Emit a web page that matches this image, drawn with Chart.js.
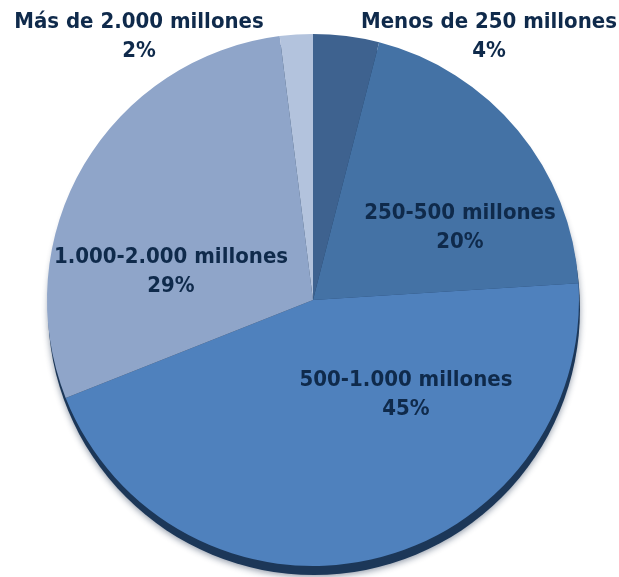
<!DOCTYPE html>
<html>
<head>
<meta charset="utf-8">
<script src="https://cdn.jsdelivr.net/npm/chart.js@4"></script>
<style>
	html, body { margin: 0; padding: 0; background: #ffffff; }
	#wrap { width: 619px; height: 577px; position: relative; }
</style>
</head>
<body>
<div id="wrap"><canvas id="pieChart"></canvas></div>
<script>
const categories = ['Menos de 250 millones', '250-500 millones', '500-1.000 millones', '1.000-2.000 millones', 'Más de 2.000 millones'];
const shares = [4, 20, 45, 29, 2];
const shareLabels = ['4%', '20%', '45%', '29%', '2%'];

const sliceColors = ['#3e628f', '#4472a5', '#4f81bd', '#8fa5c9', '#b3c3dd'];
const TEXT_COLOR = '#0f2a4b';
const LABEL_FONT = "bold 22px 'DejaVu Sans Condensed', 'DejaVu Sans', sans-serif";

// label centres, relative to the pie centre
const labelOffsets = [
	{ dx: 176, dy: -278 },
	{ dx: 147, dy: -87 },
	{ dx: 93, dy: 80 },
	{ dx: -142, dy: -43 },
	{ dx: -174, dy: -278 },
];

const shadowPlugin = {
	id: 'pieShadow',
	beforeDatasetsDraw(chart) {
		const arc = chart.getDatasetMeta(0).data[0];
		if (!arc) return;
		const { x, y, outerRadius } = arc.getProps(['x', 'y', 'outerRadius'], true);
		const ctx = chart.ctx;
		ctx.save();
		ctx.shadowColor = 'rgba(20, 40, 70, 0.45)';
		ctx.shadowBlur = 6;
		ctx.shadowOffsetY = 2;
		ctx.fillStyle = '#1c3758';
		ctx.beginPath();
		ctx.arc(x + 1, y + 9, outerRadius, 0, Math.PI * 2);
		ctx.fill();
		ctx.restore();
	},
};

const labelPlugin = {
	id: 'sliceLabels',
	afterDatasetsDraw(chart) {
		const arcs = chart.getDatasetMeta(0).data;
		const ctx = chart.ctx;
		ctx.save();
		ctx.font = LABEL_FONT;
		ctx.fillStyle = TEXT_COLOR;
		ctx.textAlign = 'center';
		ctx.textBaseline = 'middle';
		arcs.forEach((arc, i) => {
			const { x, y } = arc.getProps(['x', 'y'], true);
			const off = labelOffsets[i];
			ctx.fillText(categories[i], x + off.dx, y + off.dy);
			ctx.fillText(shareLabels[i], x + off.dx, y + off.dy + 29);
		});
		ctx.restore();
	},
};

document.addEventListener('DOMContentLoaded', () => {
	const ctx = document.getElementById('pieChart');
	new Chart(ctx.getContext('2d'), {
		type: 'pie',
		data: {
			labels: categories,
			datasets: [
				{
					data: shares,
					backgroundColor: sliceColors,
					borderWidth: 0,
				},
			],
		},
		options: {
			responsive: true,
			maintainAspectRatio: false,
			animation: false,
			layout: {
				padding: { left: 47, right: 40, top: 34, bottom: 11 },
			},
			plugins: {
				legend: { display: false },
				tooltip: { enabled: false },
			},
		},
		plugins: [shadowPlugin, labelPlugin],
	});
});
</script>
</body>
</html>
